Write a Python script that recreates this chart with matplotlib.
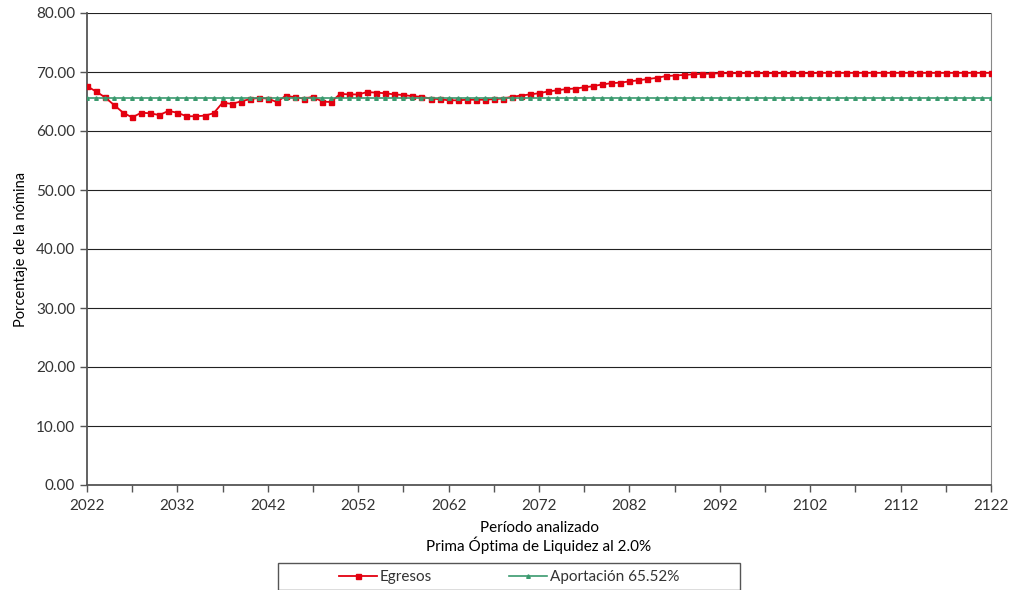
import numpy as np
import matplotlib
matplotlib.use("Agg")
import matplotlib.pyplot as plt
from matplotlib.patches import Rectangle

plt.rcParams.update({"font.family": ["Lato", "DejaVu Sans"], "font.size": 10.5,
                     "text.color": "#333333", "xtick.color": "#555555",
                     "ytick.color": "#555555", "xtick.labelcolor": "#333333",
                     "ytick.labelcolor": "#333333"})

years = np.arange(2022, 2123)
egresos_head = [67.6, 66.7, 65.7, 64.4, 63.1, 62.3, 63.1, 63.0, 62.7, 63.4,
                63.1, 62.5, 62.5, 62.6, 63.0, 64.8, 64.6, 65.0, 65.4, 65.6,
                65.5, 64.9, 66.0, 65.7, 65.5, 65.8, 65.0, 64.9, 66.3, 66.2,
                66.2, 66.6, 66.5, 66.4, 66.2, 66.1, 65.9, 65.8, 65.5, 65.4,
                65.2, 65.2, 65.3, 65.3, 65.3, 65.4, 65.5, 65.8, 66.0, 66.2,
                66.4, 66.7, 66.9, 67.1, 67.2, 67.4, 67.6, 67.9, 68.1, 68.2,
                68.4, 68.6, 68.8, 69.0, 69.3, 69.4, 69.5, 69.6, 69.7, 69.7,
                69.8]
egresos_tail = [69.8] * 10 + [69.85] * 20
egresos = egresos_head + egresos_tail
aportacion = [65.52] * len(years)

fig = plt.figure(figsize=(10.11, 5.90), dpi=100)
ax = fig.add_axes([87 / 1011, 1 - 485 / 590, (991 - 87) / 1011, (485 - 13) / 590])

ax.plot(years, egresos, color="#e3000f", lw=1.3, marker="s", ms=3.6,
        label="Egresos", zorder=3)
ax.plot(years, aportacion, color="#3a9a6e", lw=1.2, marker="^", ms=2.6,
        label="Aportación 65.52%", zorder=4)

ax.set_xlim(2022, 2122)
ax.set_ylim(0, 80)
ax.set_yticks(np.arange(0, 81, 10))
ax.set_yticklabels([f"{v:.2f}" for v in np.arange(0, 81, 10)])
ax.set_xticks(np.arange(2022, 2123, 5))
ax.set_xticklabels([str(y) if (y - 2022) % 10 == 0 else "" for y in range(2022, 2123, 5)])
ax.tick_params(direction="out", length=5, width=1, labelsize=11)
ax.tick_params(axis="x", pad=5)
ax.grid(axis="y", color="#222222", lw=0.8)
ax.set_axisbelow(True)
for s in ["left", "bottom"]:
    ax.spines[s].set_color("#555555"); ax.spines[s].set_linewidth(1.3)
ax.spines["right"].set_color("#888888")
ax.spines["top"].set_visible(False)

ax.set_ylabel("Porcentaje de la nómina", labelpad=6)
ax.set_xlabel("Período analizado\nPrima Óptima de Liquidez al 2.0%", labelpad=6,
              linespacing=1.1, fontsize=11)

# legend box drawn separately (wider than the entries, like the original)
fig.patches.append(Rectangle((278 / 1011, 1 - 590 / 590), 462 / 1011, 27 / 590,
                             transform=fig.transFigure, fill=False,
                             edgecolor="#555555", lw=1.0))
fig.legend(loc="center", bbox_to_anchor=(509 / 1011, 1 - 577 / 590), ncol=2,
           frameon=False, columnspacing=5, handlelength=2.5, handletextpad=0.2,
           fontsize=11)

fig.savefig("out.png", dpi=100)
